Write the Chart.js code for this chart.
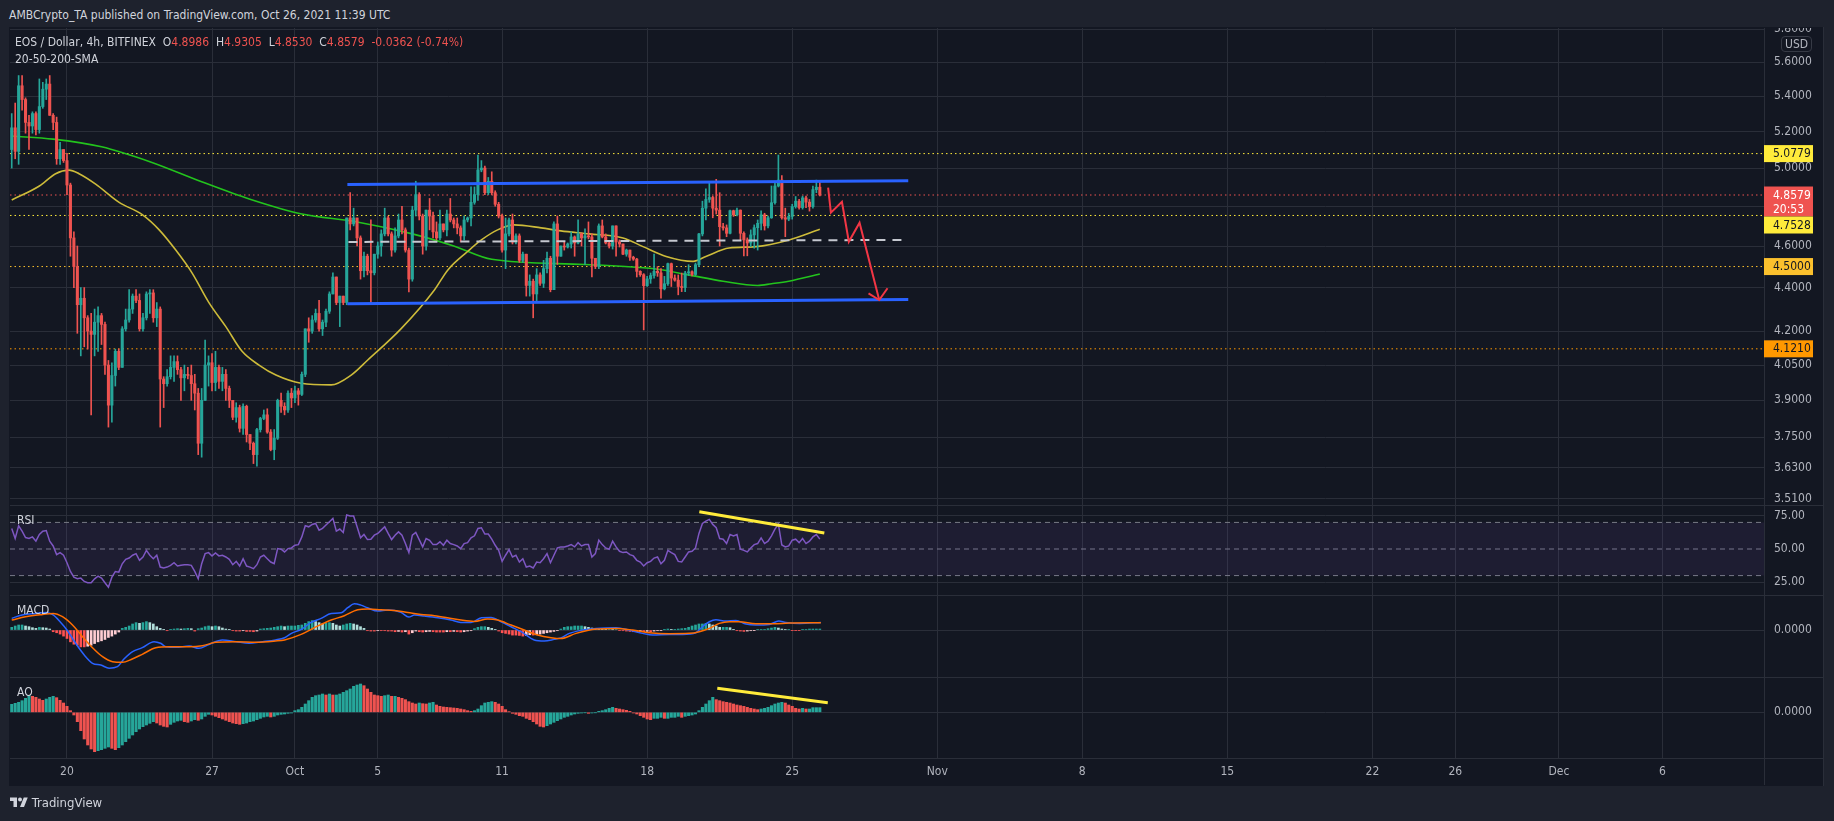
<!DOCTYPE html>
<html lang="en">
<head>
<meta charset="utf-8">
<title>EOS / Dollar, 4h, BITFINEX</title>
<script src="https://cdn.jsdelivr.net/npm/chart.js@4.4.1/dist/chart.umd.min.js"></script>
<style>
  html, body { margin: 0; padding: 0; }
  body {
    width: 1834px; height: 821px; background: #1e222d; position: relative; overflow: hidden;
    font-family: "Liberation Sans Narrow", "DejaVu Sans Condensed", "Liberation Sans", sans-serif;
    color: #d1d4dc;
  }
  #frame { position: absolute; left: 9px; top: 27px; width: 1815px; height: 759px; background: #131722; }
  canvas { position: absolute; left: 10px; }
  #mainChart { top: 28px; }
  #rsiChart { top: 505px; }
  #macdChart { top: 595px; }
  #aoChart { top: 677px; }
  .sep { position: absolute; left: 10px; width: 1813px; height: 1px; background: #2a2e39; }
  .txt { position: absolute; white-space: nowrap; font-size: 12px; line-height: 14px; }
  .red { color: #ef5350; }
</style>
</head>
<body>
<div id="frame"></div>

<canvas id="mainChart" width="1813" height="477"></canvas>
<canvas id="rsiChart" width="1813" height="90"></canvas>
<canvas id="macdChart" width="1813" height="82"></canvas>
<canvas id="aoChart" width="1813" height="108"></canvas>

<div class="sep" style="top:505px"></div>
<div class="sep" style="top:595px"></div>
<div class="sep" style="top:677px"></div>
<div class="sep" style="top:758px"></div>
<div style="position:absolute;left:1764px;top:758px;width:1px;height:27px;background:#2a2e39"></div>
<div style="position:absolute;left:1823px;top:27px;width:1px;height:759px;background:#2a2e39"></div>

<div class="txt" style="left:9px;top:8px">AMBCrypto_TA published on TradingView.com, Oct 26, 2021 11:39 UTC</div>
<div class="txt" style="left:15px;top:35px">EOS / Dollar, 4h, BITFINEX&nbsp;&nbsp;O<span class="red">4.8986</span>&nbsp;&nbsp;H<span class="red">4.9305</span>&nbsp;&nbsp;L<span class="red">4.8530</span>&nbsp;&nbsp;C<span class="red">4.8579</span>&nbsp;&nbsp;<span class="red">-0.0362 (-0.74%)</span></div>
<div class="txt" style="left:15px;top:52px">20-50-200-SMA</div>
<div class="txt" style="left:1781px;top:36px;border:1px solid #363a45;border-radius:4px;padding:0 3px;color:#b2b5be">USD</div>
<div class="txt" style="left:17px;top:513px">RSI</div>
<div class="txt" style="left:17px;top:603px">MACD</div>
<div class="txt" style="left:17px;top:685px">AO</div>
<div class="txt" style="left:10px;top:796px;font-size:13px">
  <svg width="18" height="12" viewBox="0 0 36 24" style="vertical-align:-1px"><path d="M14 22H7V10H0V3h14v19zM28 22h-8l7.5-19h8L28 22z" fill="#d1d4dc"/><circle cx="20" cy="7" r="4" fill="#d1d4dc"/></svg>
  TradingView
</div>

<script>
// ================== Data ==================
const startDay = 16 + 8 / 24; // first 4h candle (Sep 17 08:00), days counted from Sep 1
const candlesPerDay = 6;
const open0 = 5.10;

const closes = [
  5.22, 5.09, 5.46, 5.38, 5.25, 5.23, 5.30, 5.21, 5.34, 5.44,
  5.47, 5.29, 5.25, 5.05, 5.10, 5.04, 4.91, 4.64, 4.50, 4.32,
  4.35, 4.26, 4.20, 4.185, 4.24, 4.27, 4.23, 4.05, 3.88, 4.005,
  4.11, 4.04, 4.21, 4.25, 4.30, 4.36, 4.34, 4.21, 4.26, 4.37,
  4.375, 4.26, 4.30, 3.99, 3.97, 4.00, 4.04, 4.065, 4.03, 3.995,
  4.01, 4.005, 3.97, 3.93, 3.725, 3.90, 4.05, 4.06, 3.975, 4.04,
  3.98, 4.01, 3.95, 3.90, 3.83, 3.87, 3.785, 3.875, 3.76, 3.725,
  3.68, 3.78, 3.825, 3.84, 3.77, 3.70, 3.745, 3.90, 3.875, 3.86,
  3.93, 3.91, 3.94, 3.925, 4.01, 4.21, 4.20, 4.25, 4.28, 4.21,
  4.24, 4.29, 4.37, 4.45, 4.33, 4.36, 4.33, 4.74, 4.71, 4.74,
  4.64, 4.48, 4.55, 4.48, 4.47, 4.56, 4.60, 4.66, 4.74, 4.66,
  4.58, 4.65, 4.73, 4.68, 4.58, 4.44, 4.78, 4.86, 4.75, 4.60,
  4.78, 4.75, 4.67, 4.64, 4.71, 4.68, 4.76, 4.73, 4.71, 4.69,
  4.65, 4.73, 4.74, 4.82, 4.86, 4.99, 5.00, 4.87, 4.93, 4.87,
  4.81, 4.75, 4.58, 4.66, 4.73, 4.62, 4.65, 4.53, 4.56, 4.41,
  4.43, 4.37, 4.46, 4.42, 4.49, 4.54, 4.39, 4.71, 4.55, 4.60,
  4.595, 4.61, 4.645, 4.615, 4.66, 4.64, 4.65, 4.645, 4.54, 4.50,
  4.70, 4.645, 4.615, 4.60, 4.70, 4.62, 4.61, 4.56, 4.58, 4.545,
  4.536, 4.477, 4.461, 4.409, 4.441, 4.457, 4.477, 4.47, 4.394, 4.418,
  4.514, 4.445, 4.435, 4.405, 4.40, 4.469, 4.475, 4.462, 4.509, 4.66,
  4.79, 4.835, 4.845, 4.79, 4.78, 4.696, 4.69, 4.663, 4.777, 4.756,
  4.78, 4.663, 4.63, 4.615, 4.655, 4.691, 4.713, 4.756, 4.70, 4.741,
  4.818, 4.905, 4.936, 4.741, 4.734, 4.748, 4.798, 4.826, 4.793, 4.843,
  4.821, 4.798, 4.886, 4.8986, 4.8579,
];

const highs = [
  5.30, 5.36, 5.52, 5.52, 5.39, 5.29, 5.31, 5.31, 5.50, 5.48,
  5.50, 5.52, 5.30, 5.28, 5.14, 5.10, 5.08, 4.92, 4.67, 4.60,
  4.40, 4.40, 4.27, 4.28, 4.30, 4.31, 4.28, 4.24, 4.07, 4.06,
  4.12, 4.12, 4.22, 4.30, 4.39, 4.37, 4.39, 4.37, 4.28, 4.38,
  4.39, 4.39, 4.33, 4.31, 4.00, 4.03, 4.09, 4.09, 4.09, 4.04,
  4.05, 4.04, 4.05, 4.01, 3.95, 3.95, 4.16, 4.09, 4.10, 4.11,
  4.05, 4.04, 4.03, 3.96, 3.90, 3.89, 3.88, 3.885, 3.88, 3.76,
  3.73, 3.785, 3.83, 3.86, 3.865, 3.78, 3.78, 3.905, 3.93, 3.89,
  3.94, 3.95, 3.96, 3.95, 4.02, 4.21, 4.26, 4.27, 4.30, 4.34,
  4.25, 4.30, 4.38, 4.47, 4.45, 4.36, 4.36, 4.74, 4.87, 4.79,
  4.74, 4.65, 4.57, 4.56, 4.73, 4.56, 4.62, 4.68, 4.79, 4.75,
  4.67, 4.69, 4.76, 4.80, 4.69, 4.59, 4.80, 4.93, 4.87, 4.76,
  4.78, 4.84, 4.77, 4.72, 4.78, 4.71, 4.78, 4.84, 4.74, 4.74,
  4.70, 4.75, 4.745, 4.90, 4.90, 5.07, 5.04, 5.01, 4.95, 4.98,
  4.88, 4.82, 4.76, 4.74, 4.74, 4.76, 4.66, 4.66, 4.57, 4.56,
  4.46, 4.44, 4.49, 4.47, 4.53, 4.57, 4.55, 4.72, 4.75, 4.60,
  4.62, 4.615, 4.67, 4.65, 4.73, 4.665, 4.685, 4.72, 4.66, 4.54,
  4.71, 4.73, 4.66, 4.625, 4.70, 4.70, 4.63, 4.61, 4.585, 4.58,
  4.55, 4.54, 4.48, 4.466, 4.453, 4.469, 4.56, 4.50, 4.49, 4.453,
  4.517, 4.517, 4.46, 4.46, 4.469, 4.477, 4.509, 4.48, 4.517, 4.663,
  4.826, 4.89, 4.92, 4.852, 4.94, 4.87, 4.713, 4.705, 4.78, 4.78,
  4.79, 4.781, 4.67, 4.64, 4.68, 4.705, 4.73, 4.777, 4.764, 4.75,
  4.905, 4.92, 5.07, 4.96, 4.79, 4.764, 4.81, 4.85, 4.835, 4.852,
  4.852, 4.835, 4.905, 4.936, 4.9305,
];

const lows = [
  5.00, 5.05, 5.02, 5.32, 5.19, 5.10, 5.19, 5.18, 5.19, 5.33,
  5.38, 5.29, 5.21, 5.02, 5.02, 5.03, 4.86, 4.55, 4.40, 4.19,
  4.09, 4.13, 4.12, 3.84, 4.09, 4.11, 4.14, 4.01, 3.79, 3.81,
  3.96, 4.03, 4.04, 4.20, 4.24, 4.28, 4.33, 4.20, 4.20, 4.25,
  4.28, 4.24, 4.22, 3.79, 3.87, 3.96, 3.99, 3.98, 4.01, 3.90,
  3.94, 3.99, 3.90, 3.86, 3.68, 3.67, 3.90, 3.96, 3.94, 3.94,
  3.95, 3.94, 3.90, 3.87, 3.82, 3.81, 3.77, 3.76, 3.73, 3.70,
  3.645, 3.635, 3.77, 3.82, 3.765, 3.695, 3.66, 3.74, 3.85, 3.84,
  3.85, 3.87, 3.89, 3.88, 3.92, 4.00, 4.15, 4.19, 4.24, 4.20,
  4.18, 4.22, 4.28, 4.37, 4.32, 4.22, 4.32, 4.32, 4.68, 4.70,
  4.60, 4.44, 4.45, 4.46, 4.33, 4.46, 4.54, 4.55, 4.65, 4.65,
  4.55, 4.57, 4.64, 4.66, 4.57, 4.38, 4.43, 4.75, 4.73, 4.56,
  4.58, 4.68, 4.64, 4.63, 4.63, 4.67, 4.65, 4.72, 4.69, 4.66,
  4.62, 4.63, 4.72, 4.70, 4.81, 4.83, 4.98, 4.86, 4.86, 4.86,
  4.80, 4.74, 4.57, 4.49, 4.65, 4.61, 4.61, 4.52, 4.52, 4.36,
  4.36, 4.26, 4.33, 4.41, 4.40, 4.47, 4.38, 4.39, 4.51, 4.55,
  4.58, 4.59, 4.59, 4.55, 4.61, 4.60, 4.51, 4.635, 4.45, 4.49,
  4.49, 4.64, 4.61, 4.59, 4.585, 4.55, 4.595, 4.557, 4.55, 4.53,
  4.53, 4.45, 4.453, 4.205, 4.405, 4.42, 4.445, 4.453, 4.35, 4.389,
  4.41, 4.405, 4.43, 4.366, 4.381, 4.381, 4.457, 4.455, 4.457, 4.50,
  4.65, 4.73, 4.82, 4.741, 4.76, 4.60, 4.679, 4.646, 4.66, 4.748,
  4.75, 4.63, 4.552, 4.552, 4.597, 4.589, 4.58, 4.68, 4.679, 4.69,
  4.738, 4.81, 4.90, 4.734, 4.646, 4.726, 4.734, 4.79, 4.785, 4.785,
  4.793, 4.775, 4.79, 4.87, 4.853,
];

// [candle index, value]
const sma50 = [
  [0, 4.832], [8, 4.905], [12.7, 4.97], [16.6, 4.989], [19.5, 4.97], [24.3, 4.915],
  [31.1, 4.82], [37.7, 4.758], [42.7, 4.68], [47.5, 4.58], [52.2, 4.47], [57.1, 4.33],
  [62, 4.22], [66.7, 4.11], [71.6, 4.05], [76.5, 4.007], [83.8, 3.972], [92.5, 3.965],
  [98.3, 4.007], [103.1, 4.072], [112.7, 4.21], [122.4, 4.389], [126.3, 4.484], [132, 4.573],
  [136, 4.63], [140.7, 4.68], [145.5, 4.705], [153.3, 4.69], [159, 4.675], [167.2, 4.66],
  [177, 4.64], [182.8, 4.597], [189.5, 4.549], [197.3, 4.525], [201, 4.549], [207.7, 4.59],
  [215.5, 4.597], [225.1, 4.63], [234, 4.683],
];
const sma200 = [
  [0, 5.174], [12, 5.157], [26, 5.115], [40, 5.034], [55, 4.927], [69, 4.836],
  [84, 4.76], [100, 4.72], [116, 4.66], [128, 4.6], [139, 4.535], [166, 4.51],
  [187, 4.487], [196, 4.46], [206, 4.43], [216, 4.41], [220, 4.418], [225, 4.43], [234, 4.464],
];

const rsiValues = [
  65.5, 57.9, 67.5, 63.4, 58.6, 57.9, 59.1, 55.9, 60.9, 63.4,
  63.9, 55.9, 52.3, 45.8, 47.3, 45.3, 39.7, 33.1, 28.8, 27.6,
  28.1, 25.6, 24.6, 24.6, 27.6, 29.6, 28.1, 24.6, 21.3, 28.8,
  33.1, 32.6, 38.9, 42.2, 43.2, 45.3, 46.5, 41.5, 44.0, 49.0,
  45.3, 42.7, 45.3, 36.4, 35.7, 36.4, 37.7, 39.7, 37.2, 37.7,
  38.2, 38.2, 37.7, 33.1, 27.6, 38.9, 46.5, 47.3, 44.8, 47.0,
  44.8, 45.3, 44.0, 42.2, 38.2, 40.7, 37.2, 42.7, 37.2, 36.4,
  35.2, 38.2, 44.0, 45.3, 42.7, 40.2, 38.9, 50.3, 49.8, 47.8,
  50.3, 50.8, 52.8, 53.3, 59.1, 67.5, 66.7, 68.5, 69.2, 64.2,
  65.5, 68.0, 70.5, 73.0, 63.4, 65.0, 62.4, 75.6, 74.8, 74.8,
  66.7, 58.4, 60.9, 57.1, 57.4, 60.4, 61.7, 64.2, 66.7, 61.7,
  57.1, 60.4, 62.9, 60.4, 54.1, 47.3, 60.4, 62.4, 57.1, 51.6,
  57.9, 56.6, 53.3, 53.3, 55.4, 52.8, 56.6, 54.1, 53.3, 52.3,
  50.3, 54.1, 54.8, 58.4, 59.9, 65.5, 66.0, 61.2, 61.2, 57.4,
  52.8, 49.0, 40.7, 45.3, 49.5, 44.0, 45.3, 40.2, 42.7, 36.4,
  37.2, 35.7, 40.2, 39.7, 42.7, 46.5, 39.7, 45.3, 50.8, 51.6,
  51.6, 52.3, 53.3, 51.6, 54.8, 52.3, 53.3, 53.3, 44.0, 46.5,
  56.6, 53.3, 50.8, 49.8, 55.9, 51.6, 48.3, 47.3, 47.8, 45.8,
  44.8, 41.5, 40.2, 37.2, 39.7, 40.7, 43.2, 44.0, 38.9, 41.5,
  49.0, 47.3, 45.8, 40.7, 40.2, 44.0, 47.8, 48.3, 50.8, 61.7,
  69.2, 71.0, 72.3, 68.5, 66.0, 57.9, 57.4, 54.1, 60.9, 59.9,
  60.9, 49.8, 49.0, 47.8, 50.8, 53.3, 54.1, 58.4, 54.1, 55.9,
  59.9, 65.0, 68.5, 53.0, 51.6, 52.3, 56.6, 57.4, 54.8, 57.9,
  54.1, 55.9, 59.1, 60.9, 57.4,
];

const macdHist = [
  0.012, 0.018, 0.0225, 0.0225, 0.018, 0.015, 0.0105, 0.0075, 0.012, 0.0105,
  0.009, 0.0045, -0.0075, -0.012, -0.018, -0.027, -0.0375, -0.0525, -0.063, -0.0675,
  -0.075, -0.075, -0.072, -0.0675, -0.06, -0.0525, -0.048, -0.042, -0.033, -0.027,
  -0.018, -0.009, 0.0075, 0.012, 0.018, 0.027, 0.033, 0.03, 0.033, 0.0375,
  0.033, 0.027, 0.015, 0.0075, 0.003, -0.003, 0.003, 0.0045, 0.006, 0.0045,
  0.006, 0.0075, 0.006, -0.0045, 0.006, 0.009, 0.015, 0.018, 0.015, 0.018,
  0.015, 0.009, 0.0045, 0.003, -0.003, -0.0045, -0.0045, -0.003, -0.006, -0.006,
  -0.0075, -0.0045, 0.0045, 0.006, 0.0075, 0.009, 0.012, 0.015, 0.018,
  0.015, 0.018, 0.018, 0.018, 0.021, 0.0225, 0.03, 0.0375, 0.042, 0.0375,
  0.033, 0.027, 0.03, 0.033, 0.03, 0.0225, 0.018, 0.0225, 0.027, 0.03,
  0.027, 0.0225, 0.015, 0.0075, -0.003, -0.0045, -0.0045, -0.003, -0.003, -0.003,
  -0.0045, -0.0045, -0.0075, -0.006, -0.009, -0.0075, -0.018, -0.012, -0.0045, -0.0075,
  -0.009, -0.0075, -0.006, -0.0075, -0.009, -0.009, -0.009, -0.0075, -0.0075, -0.006,
  -0.0075, -0.009, -0.0075, -0.0045, -0.003, 0.006, 0.012, 0.015, 0.015, 0.012,
  0.0075, 0.003, -0.0045, -0.012, -0.015, -0.018, -0.0225, -0.0225, -0.024, -0.027,
  -0.024, -0.021, -0.0225, -0.021, -0.018, -0.015, -0.012, -0.009, -0.006, -0.003,
  0.0045,
  0.012, 0.015, 0.015, 0.018, 0.018, 0.018, 0.015, 0.012, 0.009, 0.0075,
  0.006, 0.0045, 0.003, 0.003, 0.0015, 0.0015, -0.0015, -0.003, -0.0045, -0.006,
  -0.0075, -0.0075, -0.006, -0.0075, -0.006, -0.0075, -0.0045, -0.003, -0.0015, 0.003,
  0.0045, 0.003, 0.003, 0.0045, 0.006, 0.0075, 0.012, 0.018, 0.0225, 0.027,
  0.027, 0.03, 0.027, 0.0225, 0.018, 0.012, 0.012, 0.012, 0.0105, 0.003,
  -0.003, -0.0045, -0.006, -0.0045, -0.003, -0.0015, 0.0015, 0.0015, 0.0015, 0.006,
  0.009, 0.012, 0.009, 0.0045, 0.0015, 0.0015, -0.0015, -0.0015, -0.0015, 0.0015,
  0.0015, 0.0045, 0.0045, 0.0045, 0.0045,
];

// [candle index, value]
const macdLine = [
  [0, 0.052], [3, 0.067], [7, 0.074], [10, 0.0785], [12, 0.067], [14, 0.037], [16, 0],
  [18.5, -0.059], [21, -0.111], [23.4, -0.148], [25.8, -0.156], [28.2, -0.17], [30.6, -0.163],
  [32.5, -0.129], [35, -0.096], [37.8, -0.0785], [41.2, -0.052], [43.1, -0.059], [44.6, -0.074],
  [47.5, -0.077], [51.4, -0.071], [54.2, -0.0815], [57.1, -0.064], [61, -0.044], [65, -0.052],
  [68.7, -0.059], [72.6, -0.052], [76.4, -0.044], [79, -0.0341], [81, -0.0148], [84, 0.0044],
  [86.7, 0.0341], [89.6, 0.0519], [92.5, 0.0741], [95.4, 0.077], [97.3, 0.0993], [99.2, 0.117],
  [101.1, 0.111], [103, 0.0993], [106, 0.0844], [109, 0.0889], [112.7, 0.0785], [115, 0.0578],
  [116.6, 0.0667], [119.5, 0.0622], [123.4, 0.0548], [127.2, 0.0444], [130, 0.0341], [133, 0.0341],
  [136, 0.0548], [138.8, 0.0563], [141.7, 0.037], [144.6, 0.0148], [147.5, -0.0074], [151.3, -0.0444],
  [154.2, -0.0489], [157.1, -0.0415], [159, -0.035], [161.5, -0.0148], [165.3, 0], [169.2, 0.0074],
  [175, 0.0104], [178.8, 0], [182.7, -0.0148], [185.6, -0.0222], [190.4, -0.0193], [194.3, -0.0193],
  [198.1, -0.0119], [200, 0.0148], [202, 0.037], [203.9, 0.0459], [206.8, 0.04], [209.7, 0.043],
  [212.6, 0.0267], [215.5, 0.0222], [219.4, 0.0252], [222.1, 0.04], [224.1, 0.0341], [228.1, 0.0296],
  [234.3, 0.0341],
];
const signalLine = [
  [0, 0.0444], [4, 0.0593], [9, 0.0696], [12, 0.0741], [14.7, 0.0593], [17.6, 0.0222],
  [20.5, -0.0296], [23.4, -0.0785], [26.3, -0.1185], [29.2, -0.1407], [32, -0.1437], [34.9, -0.1289],
  [37.8, -0.1081], [41.7, -0.0785], [45.6, -0.0741], [51.4, -0.0741], [55.2, -0.0696], [59.1, -0.0548],
  [64.9, -0.0519], [70.7, -0.0548], [76.4, -0.0489], [79, -0.044], [83.8, -0.0193], [87.6, 0.0104],
  [92.5, 0.0444], [96.3, 0.0637], [100.2, 0.0904], [103.1, 0.0933], [106.9, 0.0904], [110.8, 0.0874],
  [114.7, 0.0785], [118.5, 0.0696], [122.4, 0.0637], [126.2, 0.0548], [130.1, 0.0444], [134, 0.0385],
  [137.8, 0.0489], [140.7, 0.0444], [144.6, 0.0222], [148.4, 0], [152.3, -0.0222], [156.2, -0.0341],
  [159, -0.038], [163.4, -0.0148], [169.2, 0.0044], [175, 0.0074], [179.8, 0], [184.6, -0.0119],
  [190.4, -0.0163], [196.2, -0.0148], [199.1, -0.0074], [202, 0.0074], [204.9, 0.0296], [207.8, 0.037],
  [210.7, 0.037], [215.5, 0.0281], [220.4, 0.0281], [225.2, 0.0311], [234.3, 0.0326],
];

const aoValues = [
  0.096, 0.108, 0.12, 0.14, 0.168, 0.2, 0.192, 0.18, 0.16, 0.144,
  0.16, 0.18, 0.192, 0.176, 0.144, 0.112, 0.072, 0.02, -0.032, -0.112,
  -0.22, -0.32, -0.392, -0.44, -0.472, -0.46, -0.448, -0.432, -0.416, -0.432,
  -0.448, -0.424, -0.392, -0.352, -0.312, -0.272, -0.232, -0.2, -0.172, -0.152,
  -0.132, -0.112, -0.128, -0.152, -0.168, -0.176, -0.144, -0.12, -0.104, -0.096,
  -0.112, -0.12, -0.104, -0.088, -0.096, -0.08, -0.048, -0.024, -0.032, -0.048,
  -0.064, -0.08, -0.096, -0.112, -0.128, -0.136, -0.144, -0.136, -0.128, -0.112,
  -0.104, -0.088, -0.072, -0.056, -0.048, -0.056, -0.048, -0.032, -0.024,
  -0.02, -0.012, -0.008, 0.02, 0.032, 0.06, 0.1, 0.14, 0.18, 0.2,
  0.208, 0.22, 0.208, 0.22, 0.208, 0.208, 0.22, 0.24, 0.26, 0.28,
  0.312, 0.328, 0.34, 0.32, 0.28, 0.24, 0.208, 0.2, 0.192, 0.2,
  0.208, 0.192, 0.192, 0.18, 0.168, 0.152, 0.128, 0.112, 0.1, 0.112,
  0.104, 0.1, 0.112, 0.12, 0.088, 0.072, 0.064, 0.06, 0.056, 0.052,
  0.048, 0.04, 0.032, 0.02, 0.012, 0.02, 0.04, 0.08, 0.112, 0.12,
  0.128, 0.12, 0.1, 0.072, 0.032, 0.008, -0.012, -0.024, -0.04, -0.048,
  -0.072, -0.088, -0.112, -0.14, -0.168, -0.176, -0.16, -0.14, -0.12, -0.1,
  -0.08,
  -0.06, -0.048, -0.032, -0.02, -0.012, -0.008, -0.004, -0.012, -0.008, -0.004,
  0.012, 0.02, 0.032, 0.048, 0.06, 0.048, 0.04, 0.032, 0.024, 0.012,
  -0.008, -0.02, -0.04, -0.06, -0.08, -0.088, -0.072, -0.072, -0.06, -0.072,
  -0.072, -0.06, -0.06, -0.048, -0.06, -0.048, -0.04, -0.032, -0.02, 0.02,
  0.06, 0.1, 0.14, 0.18, 0.152, 0.14, 0.128, 0.12, 0.112, 0.1,
  0.088, 0.08, 0.072, 0.06, 0.048, 0.04, 0.032, 0.04, 0.048, 0.06,
  0.08, 0.1, 0.112, 0.12, 0.112, 0.088, 0.072, 0.048, 0.04, 0.048,
  0.04, 0.04, 0.056, 0.056, 0.056,
];

// drawings: [candle index, value]
const channelTop = [[97.2, 4.913], [259.6, 4.933]];
const channelBottom = [[97.2, 4.324], [259.6, 4.344]];
const channelMid = [[97.5, 4.62], [257.8, 4.63]];
const arrowPath = [[236.4, 4.896], [237.2, 4.767], [240.4, 4.823], [242.4, 4.621], [245.5, 4.716], [251.2, 4.342]];
const arrowHead = [[248.1, 4.373], [251.2, 4.342], [253.6, 4.397]];
const rsiTrend = [[199.1, 78.0], [235.3, 62.1]];
const aoTrend = [[204.3, 0.288], [236.3, 0.115]];

const levelValues = [5.0779, 4.8579, 4.7528, 4.5, 4.121];
const levelLabels = ["5.0779", "4.8579", "4.7528", "4.5000", "4.1210"];
const countdownLabel = "20:53";

const dayTicks = [19, 26, 30, 34, 40, 47, 54, 61, 68, 75, 82, 86, 91, 96];
const dayLabels = ["20", "27", "Oct", "5", "11", "18", "25", "Nov", "8", "15", "22", "26", "Dec", "6"];
const priceTicks = [3.51, 3.63, 3.75, 3.9, 4.05, 4.2, 4.4, 4.6, 4.8, 5.0, 5.2, 5.4, 5.6, 5.8];
const hiddenPriceTicks = [4.8];
const rsiTicks = [25, 50, 75];

// ================== Style ==================
const fontFamily = '"Liberation Sans Narrow", "DejaVu Sans Condensed", "Liberation Sans", sans-serif';
const gridColor = "#2a2e39";
const textColor = "#b2b5be";
const upColor = "#26a69a";
const downColor = "#ef5350";
const levelColors = ["#ffeb3b", "#ef5350", "#ffeb3b", "#fbc02d", "#ff9800"];
const levelTextColors = ["#131722", "#ffffff", "#131722", "#131722", "#131722"];

const xMin = 16.25;
const xMax = 100.9;

// ================== Helpers ==================
const dayOf = (i) => startDay + i / candlesPerDay;
const pts = (list) => list.map(([i, v]) => ({ x: dayOf(i), y: v }));
const hline = (v) => [{ x: xMin, y: v }, { x: xMax, y: v }];

const opens = closes.map((c, i) => (i === 0 ? open0 : closes[i - 1]));
const candleColors = closes.map((c, i) => (c >= opens[i] ? upColor : downColor));

const macdColors = macdHist.map((v, i) => {
  const prev = i === 0 ? v : macdHist[i - 1];
  if (v >= 0) return v >= prev ? "#26a69a" : "#b2dfdb";
  return v > prev ? "#ffcdd2" : "#ff5252";
});
const aoColors = aoValues.map((v, i) => (i === 0 || v >= aoValues[i - 1] ? upColor : downColor));

function xScale(showLabels) {
  return {
    type: "linear",
    min: xMin,
    max: xMax,
    offset: false,
    grid: { color: gridColor, drawTicks: false, offset: false },
    border: { display: showLabels, color: gridColor },
    afterBuildTicks: (s) => { s.ticks = dayTicks.map((v) => ({ value: v })); },
    afterFit: (s) => {
      s.height = showLabels ? 27 : 0;
      s.paddingLeft = 0;
      s.paddingRight = 0;
    },
    ticks: {
      display: showLabels,
      color: textColor,
      font: { family: fontFamily, size: 12 },
      padding: 7,
      autoSkip: false,
      maxRotation: 0,
      callback: (v) => dayLabels[dayTicks.indexOf(v)] ?? "",
    },
  };
}

function yScale(extra, tickValues, format, grid) {
  return Object.assign({
    position: "right",
    grid: Object.assign({ color: gridColor, drawTicks: false }, grid || {}),
    border: { display: true, color: gridColor },
    afterBuildTicks: (s) => { s.ticks = tickValues.map((v) => ({ value: v })); },
    // fixed axis column, and no extra room reserved for the edge labels
    afterFit: (s) => {
      s.width = 59;
      s.paddingTop = 0;
      s.paddingBottom = 0;
    },
    ticks: { color: textColor, font: { family: fontFamily, size: 12 }, padding: 10, callback: format },
  }, extra);
}

function baseOptions(scales) {
  return {
    responsive: false,
    animation: false,
    events: [],
    layout: { padding: 0 },
    plugins: { legend: { display: false }, tooltip: { enabled: false } },
    scales,
  };
}

function lineSet(data, color, width, order, extra) {
  return Object.assign({
    type: "line", data, borderColor: color, borderWidth: width,
    pointRadius: 0, fill: false, order, tension: 0,
  }, extra || {});
}

// ================== Price badges ==================
const badgePlugin = {
  id: "badges",
  afterDraw(chart) {
    const { ctx, chartArea, scales } = chart;
    ctx.save();
    ctx.font = "12px " + fontFamily;
    ctx.textBaseline = "middle";
    ctx.textAlign = "left";
    let prevBottom = -Infinity;
    levelValues.forEach((v, k) => {
      const x = chartArea.right;
      const tall = k === 1;
      const top = Math.max(scales.y.getPixelForValue(v) - 8.5, prevBottom);
      const h = tall ? 30 : 17;
      ctx.fillStyle = levelColors[k];
      ctx.fillRect(x, top, 49, h);
      ctx.fillStyle = levelTextColors[k];
      ctx.fillText(levelLabels[k], x + 9, top + 9);
      if (tall) ctx.fillText(countdownLabel, x + 9, top + 23);
      prevBottom = top + h;
    });
    ctx.restore();
  },
};

// ================== Main chart ==================
new Chart(document.getElementById("mainChart").getContext("2d"), {
  type: "bar",
  data: {
    datasets: [
      ...levelValues.map((v, k) =>
        lineSet(hline(v), levelColors[k], 1, 10 + k, { borderDash: [1.5, 3] })
      ),
      lineSet(pts(sma200), "#23c41d", 1.6, 7, { cubicInterpolationMode: "monotone" }),
      lineSet(pts(sma50), "#cdbb3a", 1.6, 6, { cubicInterpolationMode: "monotone" }),
      {
        type: "bar",
        data: highs.map((h, i) => ({ x: dayOf(i), y: [lows[i], h] })),
        backgroundColor: candleColors,
        barThickness: 1,
        grouped: false,
        order: 5,
      },
      {
        type: "bar",
        data: closes.map((c, i) => ({ x: dayOf(i), y: [opens[i], c] })),
        backgroundColor: candleColors,
        barThickness: 2.4,
        minBarLength: 1,
        grouped: false,
        order: 4,
      },
      lineSet(pts(channelMid), "#c5c8d0", 2, 3, { borderDash: [9, 7] }),
      lineSet(pts(channelTop), "#2962ff", 3, 2),
      lineSet(pts(channelBottom), "#2962ff", 3, 2),
      lineSet(pts(arrowPath), "#f23645", 2, 1),
      lineSet(pts(arrowHead), "#f23645", 2, 1),
    ],
  },
  options: baseOptions({
    x: xScale(false),
    y: yScale({ type: "logarithmic", min: 3.487, max: 5.808 }, priceTicks,
      (v) => (hiddenPriceTicks.includes(v) ? "" : v.toFixed(4))),
  }),
  plugins: [badgePlugin],
});

// ================== RSI ==================
new Chart(document.getElementById("rsiChart").getContext("2d"), {
  type: "line",
  data: {
    datasets: [
      lineSet(hline(70), "#787b86", 1, 5, {
        borderDash: [5, 4], fill: { value: 30 }, backgroundColor: "rgba(126, 87, 194, 0.1)",
      }),
      lineSet(hline(50), "#787b86", 1, 5, { borderDash: [5, 4] }),
      lineSet(hline(30), "#787b86", 1, 5, { borderDash: [5, 4] }),
      lineSet(rsiValues.map((v, i) => ({ x: dayOf(i), y: v })), "#7e57c2", 1.5, 2),
      lineSet(pts(rsiTrend), "#ffeb3b", 3, 1),
    ],
  },
  options: baseOptions({
    x: xScale(false),
    y: yScale({ type: "linear", min: 15.4, max: 83.1 }, rsiTicks, (v) => v.toFixed(2), {
      color: (c) => (c.tick && c.tick.value === 50 ? "transparent" : gridColor),
    }),
  }),
});

// ================== MACD ==================
new Chart(document.getElementById("macdChart").getContext("2d"), {
  type: "bar",
  data: {
    datasets: [
      {
        type: "bar",
        data: macdHist.map((v, i) => ({ x: dayOf(i), y: v })),
        backgroundColor: macdColors,
        barThickness: 2,
        grouped: false,
        order: 3,
      },
      lineSet(pts(macdLine), "#2962ff", 1.5, 2, { cubicInterpolationMode: "monotone" }),
      lineSet(pts(signalLine), "#ff6d00", 1.5, 1, { cubicInterpolationMode: "monotone" }),
    ],
  },
  options: baseOptions({
    x: xScale(false),
    y: yScale({ type: "linear", min: -0.209, max: 0.156 }, [0], () => "0.0000"),
  }),
});

// ================== Awesome Oscillator ==================
new Chart(document.getElementById("aoChart").getContext("2d"), {
  type: "bar",
  data: {
    datasets: [
      {
        type: "bar",
        data: aoValues.map((v, i) => ({ x: dayOf(i), y: v })),
        backgroundColor: aoColors,
        barThickness: 2.4,
        grouped: false,
        order: 2,
      },
      lineSet(pts(aoTrend), "#ffeb3b", 3, 1),
    ],
  },
  options: baseOptions({
    x: xScale(true),
    y: yScale({ type: "linear", min: -0.548, max: 0.424 }, [0], () => "0.0000"),
  }),
});
</script>
</body>
</html>
